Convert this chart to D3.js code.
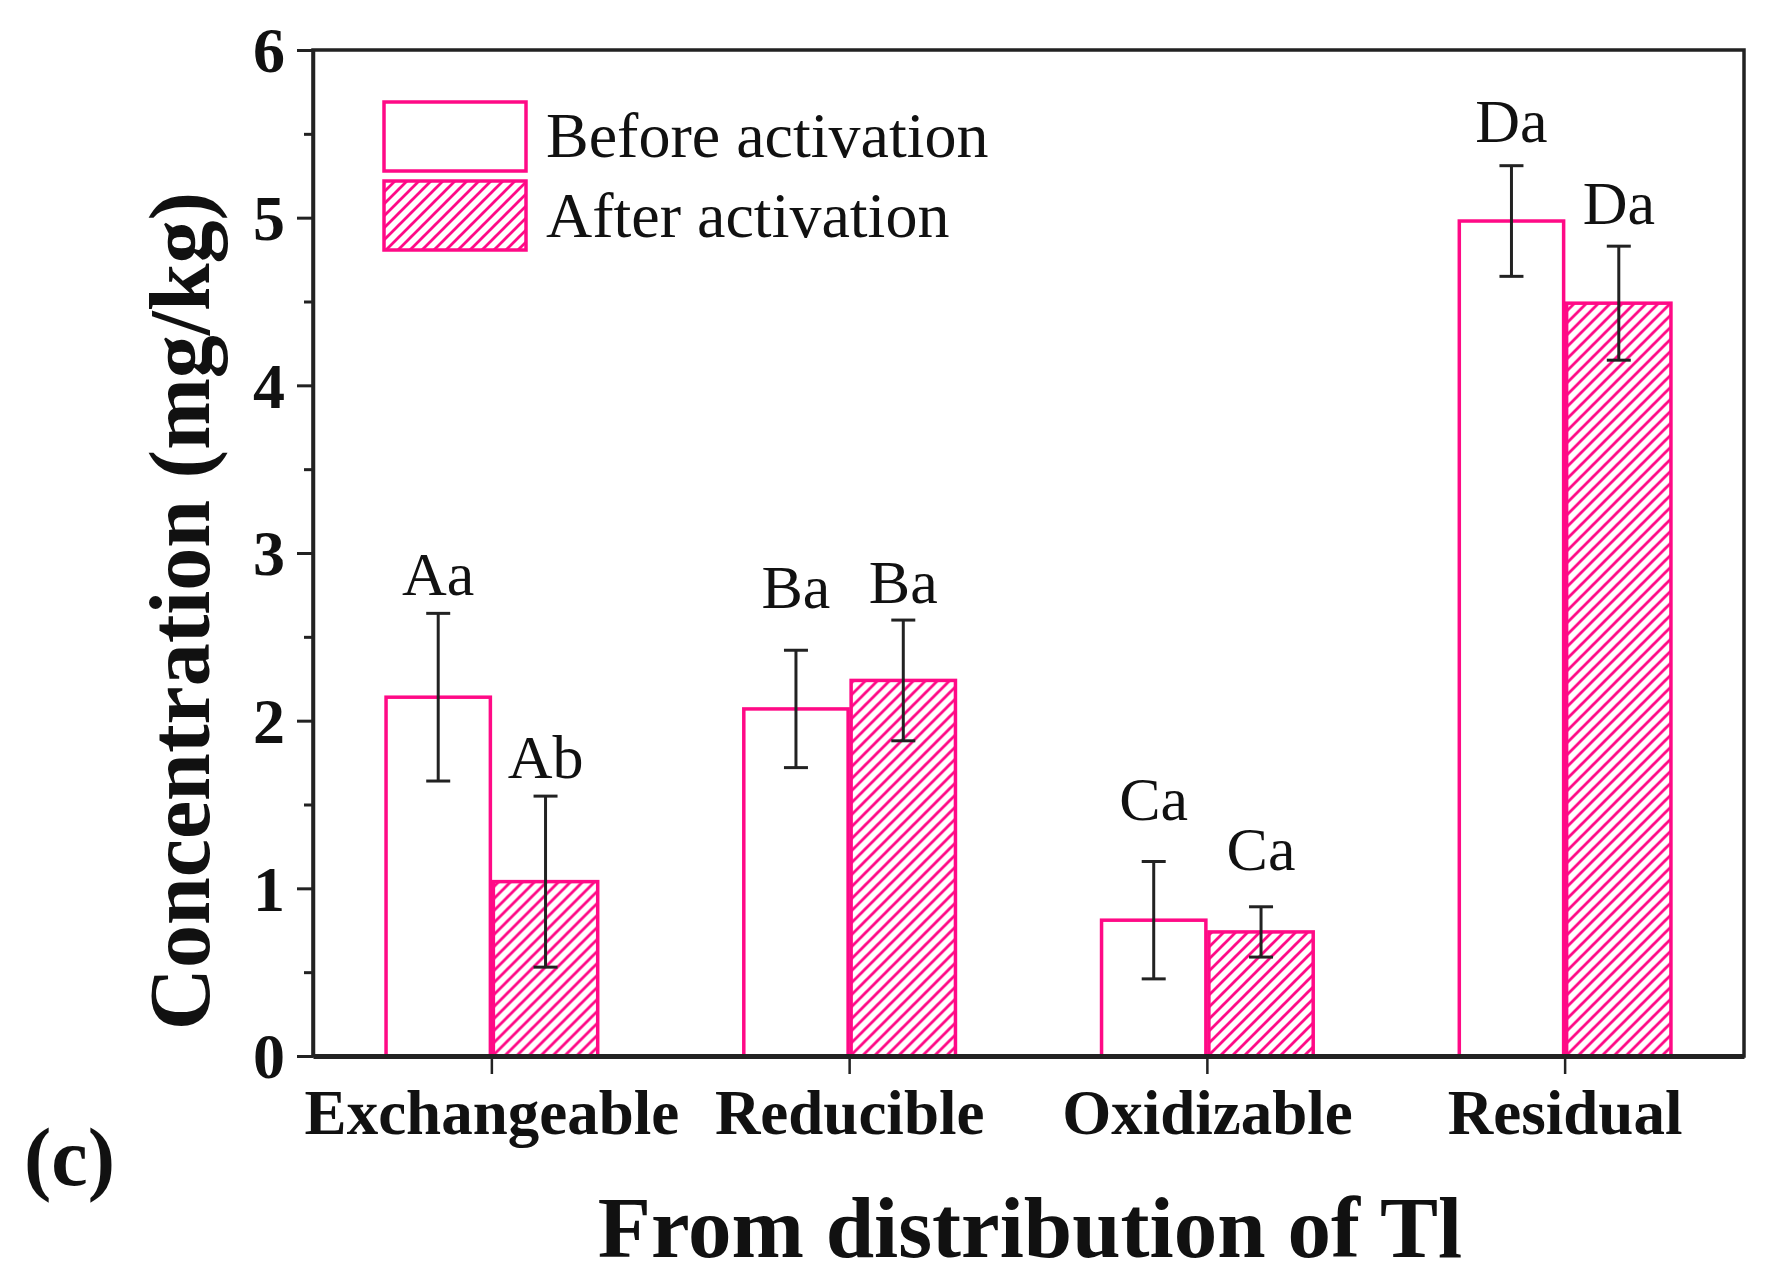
<!DOCTYPE html>
<html>
<head>
<meta charset="utf-8">
<script src="https://cdn.jsdelivr.net/npm/d3@7"></script>
<style>
  html, body { margin: 0; padding: 0; background: #ffffff; }
  svg { display: block; }
  text { font-family: "Liberation Serif", "Times New Roman", serif; fill: #111; }
</style>
</head>
<body>
<svg id="chart" width="1771" height="1284"></svg>
<script>
// ---- data ----
const categories = ["Exchangeable", "Reducible", "Oxidizable", "Residual"];
const seriesNames = ["Before activation", "After activation"];
const beforeValues = [2.14, 2.07, 0.81, 4.98];
const beforeErrors = [0.50, 0.35, 0.35, 0.33];
const afterValues = [1.04, 2.24, 0.74, 4.49];
const afterErrors = [0.51, 0.36, 0.15, 0.34];
const beforeLetters = ["Aa", "Ba", "Ca", "Da"];
const afterLetters = ["Ab", "Ba", "Ca", "Da"];
const beforeLetterY = [2.75, 2.67, 1.41, 5.45];
const afterLetterY = [1.66, 2.70, 1.11, 4.96];
const yTicks = [0, 1, 2, 3, 4, 5, 6];
const yMinorTicks = [0.5, 1.5, 2.5, 3.5, 4.5, 5.5];

const PINK = "#ff0a86";
const AXIS = "#222";

const svg = d3.select("#chart");
const margin = {left: 313, right: 1771 - 1744, top: 50, bottom: 1284 - 1056};
const W = 1771, H = 1284;

const x = d3.scaleBand().domain(categories)
  .range([margin.left, W - margin.right]).paddingInner(0.4).paddingOuter(0.2);
const xs = d3.scaleBand().domain(seriesNames).range([0, x.bandwidth()]).padding(0);
const y = d3.scaleLinear().domain([0, 6]).range([H - margin.bottom, margin.top]);

// hatch pattern
const defs = svg.append("defs");
const pat = defs.append("pattern").attr("id", "hatch")
  .attr("patternUnits", "userSpaceOnUse").attr("width", 12).attr("height", 12);
pat.append("rect").attr("width", 12).attr("height", 12).attr("fill", "#fff");
pat.append("path").attr("d", "M-3,3 L3,-3 M0,12 L12,0 M9,15 L15,9")
  .attr("stroke", PINK).attr("stroke-width", 2.8);

const rows = categories.map((c, i) => ({
  cat: c,
  items: [
    {s: seriesNames[0], v: beforeValues[i], e: beforeErrors[i], lab: beforeLetters[i], ly: beforeLetterY[i]},
    {s: seriesNames[1], v: afterValues[i], e: afterErrors[i], lab: afterLetters[i], ly: afterLetterY[i]}
  ]
}));

const g = svg.append("g");
const groups = g.selectAll("g.cat").data(rows).join("g")
  .attr("transform", d => `translate(${x(d.cat)},0)`);

groups.selectAll("rect.bar").data(d => d.items).join("rect")
  .attr("class", "bar")
  .attr("x", d => xs(d.s) + 1.5)
  .attr("width", xs.bandwidth() - 3)
  .attr("y", d => y(d.v))
  .attr("height", d => y(0) - y(d.v))
  .attr("fill", (d, i) => i === 0 ? "#fff" : "url(#hatch)")
  .attr("stroke", PINK).attr("stroke-width", 3.5);

// error bars
const eb = groups.selectAll("g.err").data(d => d.items).join("g").attr("class", "err")
  .attr("stroke", "#222").attr("stroke-width", 3);
eb.append("line")
  .attr("x1", d => xs(d.s) + xs.bandwidth() / 2).attr("x2", d => xs(d.s) + xs.bandwidth() / 2)
  .attr("y1", d => y(d.v + d.e)).attr("y2", d => y(d.v - d.e));
eb.append("line")
  .attr("x1", d => xs(d.s) + xs.bandwidth() / 2 - 12).attr("x2", d => xs(d.s) + xs.bandwidth() / 2 + 12)
  .attr("y1", d => y(d.v + d.e)).attr("y2", d => y(d.v + d.e));
eb.append("line")
  .attr("x1", d => xs(d.s) + xs.bandwidth() / 2 - 12).attr("x2", d => xs(d.s) + xs.bandwidth() / 2 + 12)
  .attr("y1", d => y(d.v - d.e)).attr("y2", d => y(d.v - d.e));

// letters
groups.selectAll("text.lab").data(d => d.items).join("text")
  .attr("class", "lab")
  .attr("x", d => xs(d.s) + xs.bandwidth() / 2)
  .attr("y", d => y(d.ly))
  .attr("text-anchor", "middle")
  .style("font-size", "62px")
  .text(d => d.lab);

// frame
svg.append("rect")
  .attr("x", margin.left).attr("y", margin.top)
  .attr("width", W - margin.right - margin.left).attr("height", y(0) - margin.top)
  .attr("fill", "none").attr("stroke", AXIS).attr("stroke-width", 3.5);

// y axis
const yAxis = d3.axisLeft(y).tickValues(yTicks).tickFormat(d3.format("d"))
  .tickSizeInner(16).tickSizeOuter(0).tickPadding(12);
const ya = svg.append("g").attr("transform", `translate(${margin.left},0)`).call(yAxis);
ya.select(".domain").attr("stroke", AXIS).attr("stroke-width", 3.5);
ya.selectAll(".tick line").attr("stroke", AXIS).attr("stroke-width", 3);
ya.selectAll(".tick text")
  .style("font-family", "'Liberation Serif', serif").style("font-weight", "bold")
  .style("font-size", "64px").attr("fill", "#111").attr("dy", "0.34em");
const yMinor = d3.axisLeft(y).tickValues(yMinorTicks).tickFormat("").tickSizeInner(9).tickSizeOuter(0);
const ym = svg.append("g").attr("transform", `translate(${margin.left},0)`).call(yMinor);
ym.select(".domain").remove();
ym.selectAll(".tick line").attr("stroke", AXIS).attr("stroke-width", 3);

// x axis
const xAxis = d3.axisBottom(x).tickSizeInner(18).tickSizeOuter(0).tickPadding(15);
const xa = svg.append("g").attr("transform", `translate(0,${y(0)})`).call(xAxis);
xa.select(".domain").attr("stroke", AXIS).attr("stroke-width", 5);
xa.selectAll(".tick line").attr("stroke", AXIS).attr("stroke-width", 2.5);
xa.selectAll(".tick text")
  .style("font-family", "'Liberation Serif', serif").style("font-weight", "bold")
  .style("font-size", "63px").attr("fill", "#111").attr("dy", "0.71em");

// axis titles
svg.append("text")
  .attr("transform", `translate(209,611) rotate(-90)`)
  .attr("text-anchor", "middle")
  .style("font-weight", "bold").style("font-size", "86px")
  .text("Concentration (mg/kg)");

svg.append("text")
  .attr("x", 1030).attr("y", 1257)
  .attr("text-anchor", "middle")
  .style("font-weight", "bold").style("font-size", "87px")
  .text("From distribution of Tl");

svg.append("text")
  .attr("x", 24).attr("y", 1185)
  .style("font-weight", "bold").style("font-size", "82px")
  .text("(c)");

// legend
const leg = svg.append("g");
const legItems = seriesNames.map((s, i) => ({s, i}));
leg.selectAll("rect").data(legItems).join("rect")
  .attr("x", 384).attr("y", d => 102 + d.i * 79)
  .attr("width", 142).attr("height", 69)
  .attr("fill", d => d.i === 0 ? "#fff" : "url(#hatch)")
  .attr("stroke", PINK).attr("stroke-width", 3.5);
leg.selectAll("text").data(legItems).join("text")
  .attr("x", 546).attr("y", d => 157 + d.i * 80)
  .style("font-size", "64px")
  .text(d => d.s);
</script>
</body>
</html>
